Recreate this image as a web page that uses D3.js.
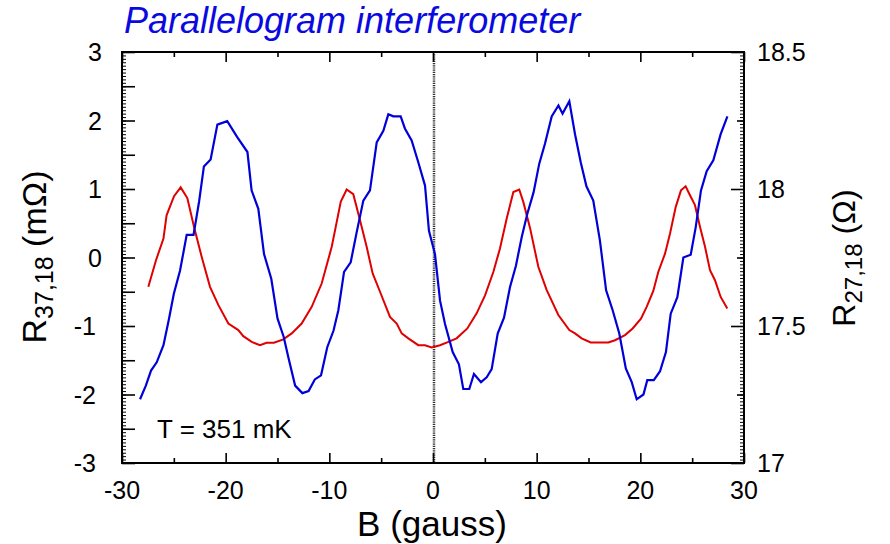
<!DOCTYPE html>
<html>
<head>
<meta charset="utf-8">
<script src="https://cdn.jsdelivr.net/npm/d3@7"></script>
<style>
	body { margin: 0; background: #fff; }
	svg text { font-family: "Liberation Sans", Arial, sans-serif; }
</style>
</head>
<body>
<svg width="890" height="544"></svg>
<script>
// blue trace, left axis (mOhm)
const blueB = [-28.26, -27.7, -27.2, -26.65, -26.0, -25.5, -25.0, -24.4, -23.76, -23.1, -22.57, -22.1, -21.45, -20.8, -19.85, -18.9, -17.9, -17.5, -16.85, -16.3, -15.6, -15.0, -14.4, -13.95, -13.3, -12.6, -12.0, -11.4, -10.8, -10.2, -9.6, -9.13, -8.58, -7.94, -7.36, -6.72, -6.08, -5.43, -4.79, -4.31, -3.83, -3.12, -2.7, -2.06, -1.42, -0.77, -0.39, 0.19, 0.68, 1.16, 1.9, 2.5, 2.92, 3.5, 3.95, 4.63, 5.18, 5.66, 6.24, 6.85, 7.43, 8.0, 8.56, 9.1, 9.7, 10.25, 10.8, 11.45, 12.1, 12.5, 13.15, 13.7, 14.25, 14.8, 15.46, 16.1, 16.7, 17.33, 17.97, 18.6, 19.17, 19.65, 20.3, 20.67, 21.3, 21.9, 22.47, 22.93, 23.57, 24.15, 24.86, 25.34, 25.85, 26.4, 27.04, 27.75, 28.4];
const blueR = [-2.07, -1.87, -1.65, -1.53, -1.28, -0.92, -0.53, -0.19, 0.33, 0.33, 0.81, 1.33, 1.43, 1.94, 1.99, 1.76, 1.54, 0.98, 0.71, 0.05, -0.31, -0.89, -1.16, -1.46, -1.87, -1.98, -1.95, -1.78, -1.72, -1.31, -1.07, -0.77, -0.21, -0.07, 0.37, 0.83, 0.98, 1.68, 1.85, 2.09, 2.06, 2.06, 1.88, 1.71, 1.39, 1.05, 0.39, 0.05, -0.63, -0.97, -1.38, -1.56, -1.92, -1.92, -1.70, -1.82, -1.75, -1.63, -1.11, -0.88, -0.43, -0.12, 0.30, 0.64, 0.95, 1.37, 1.66, 2.06, 2.22, 2.10, 2.28, 1.80, 1.39, 1.04, 0.83, 0.25, -0.48, -0.77, -1.11, -1.62, -1.82, -2.07, -2.0, -1.79, -1.79, -1.66, -1.38, -0.82, -0.58, 0.00, 0.04, 0.44, 0.98, 1.26, 1.42, 1.80, 2.06];

// red trace, right axis (Ohm)
const redB = [-27.46, -26.72, -26.0, -25.7, -24.98, -24.34, -23.7, -23.05, -22.31, -21.51, -20.7, -19.74, -18.78, -18.3, -17.49, -16.69, -16.05, -15.34, -14.44, -13.63, -12.67, -11.7, -10.74, -9.77, -9.45, -8.9, -8.33, -7.69, -7.04, -6.4, -5.82, -5.11, -4.15, -3.5, -3.02, -2.38, -1.42, -0.77, -0.13, 0.68, 1.48, 2.28, 3.31, 4.21, 5.02, 5.82, 6.46, 7.11, 7.75, 8.32, 8.71, 9.36, 10.16, 10.97, 12.09, 13.15, 13.7, 14.34, 15.21, 16.91, 17.56, 18.52, 19.26, 20.06, 20.61, 21.25, 21.73, 22.38, 22.86, 23.41, 23.92, 24.37, 24.79, 25.27, 25.76, 26.24, 26.72, 27.2, 27.75, 28.39];
const redR = [17.643, 17.740, 17.819, 17.904, 17.974, 18.006, 17.967, 17.861, 17.752, 17.643, 17.576, 17.509, 17.485, 17.463, 17.442, 17.430, 17.439, 17.439, 17.451, 17.473, 17.509, 17.570, 17.655, 17.789, 17.849, 17.953, 17.998, 17.981, 17.886, 17.789, 17.692, 17.625, 17.533, 17.509, 17.473, 17.455, 17.430, 17.430, 17.422, 17.430, 17.442, 17.455, 17.491, 17.546, 17.612, 17.697, 17.783, 17.892, 17.989, 17.998, 17.953, 17.858, 17.716, 17.631, 17.540, 17.485, 17.473, 17.455, 17.440, 17.440, 17.448, 17.467, 17.491, 17.527, 17.570, 17.628, 17.697, 17.764, 17.837, 17.934, 17.995, 18.010, 17.977, 17.941, 17.861, 17.789, 17.704, 17.667, 17.606, 17.564];

const xTicks = [-30, -20, -10, 0, 10, 20, 30];
const leftTicks = [-3, -2, -1, 0, 1, 2, 3];
const rightTicks = [17, 17.5, 18, 18.5];

var svg = d3.select("svg");
// plot box (pixels)
var pL = 122, pR = 744, pT = 52, pB = 463;

var x = d3.scaleLinear().domain([-30, 30]).range([pL, pR]);
var yL = d3.scaleLinear().domain([-3, 3]).range([pB, pT]);
var yR = d3.scaleLinear().domain([17, 18.5]).range([pB, pT]);

// title
svg.append("text")
	.attr("x", 124)
	.attr("y", 33)
	.attr("font-size", "36px")
	.attr("font-style", "italic")
	.attr("fill", "#0a0ae0")
	.text("Parallelogram interferometer");

// dotted line at B = 0
svg.append("line")
	.attr("x1", x(0) + 1).attr("x2", x(0) + 1)
	.attr("y1", pT).attr("y2", pB)
	.attr("stroke", "#333")
	.attr("stroke-width", 2.5)
	.attr("stroke-dasharray", "1.2,1");

// lines
var lineL = d3.line()
	.x(function (d, i) { return x(blueB[i]); })
	.y(function (d) { return yL(d); });
var lineR = d3.line()
	.x(function (d, i) { return x(redB[i]); })
	.y(function (d) { return yR(d); });

svg.append("path")
	.attr("d", lineR(redR))
	.attr("fill", "none")
	.attr("stroke", "#e00000")
	.attr("stroke-width", 2);

svg.append("path")
	.attr("d", lineL(blueR))
	.attr("fill", "none")
	.attr("stroke", "#0000d8")
	.attr("stroke-width", 2.2);

// axes, all ticks pointing inside
function tickAxis(axis, vals, size, transform, w) {
	svg.append("g")
		.attr("transform", transform)
		.call(axis.tickValues(vals).tickSize(size).tickFormat(""))
		.call(function (g) { g.select(".domain").remove(); })
		.selectAll("line").attr("stroke", "#000").attr("stroke-width", w || 1.6);
}

// x: major every 10, minor every 5
tickAxis(d3.axisTop(x), xTicks, 10, "translate(0," + pB + ")");
tickAxis(d3.axisTop(x), d3.range(-25, 30, 10), 5, "translate(0," + pB + ")");
tickAxis(d3.axisBottom(x), xTicks, 10, "translate(0," + pT + ")");
tickAxis(d3.axisBottom(x), d3.range(-25, 30, 10), 5, "translate(0," + pT + ")");

// left: ticks every 0.5 plus a dense ruler
tickAxis(d3.axisRight(yL), d3.range(-3, 3.01, 0.5), 13, "translate(" + pL + ",0)");
tickAxis(d3.axisRight(yL), d3.range(-3, 3.001, 0.05), 4, "translate(" + pL + ",0)", 1);

// right: ticks every 0.25 (longer at 0.5) plus dense ruler
tickAxis(d3.axisLeft(yR), rightTicks, 13, "translate(" + pR + ",0)");
tickAxis(d3.axisLeft(yR), [17.25, 17.75, 18.25], 7, "translate(" + pR + ",0)");
tickAxis(d3.axisLeft(yR), d3.range(17, 18.5001, 0.0125), 4, "translate(" + pR + ",0)", 1);

// frame
svg.append("rect")
	.attr("x", pL).attr("y", pT)
	.attr("width", pR - pL).attr("height", pB - pT)
	.attr("fill", "none")
	.attr("stroke", "#000")
	.attr("stroke-width", 2);

// tick labels
svg.selectAll(".xl").data(xTicks).enter().append("text")
	.attr("x", function (d) { return x(d); })
	.attr("y", 499)
	.attr("text-anchor", "middle")
	.attr("font-size", "25px")
	.text(function (d) { return d; });

svg.selectAll(".yl").data(leftTicks).enter().append("text")
	.attr("x", function (d) { return d < 0 ? 96 : 102; })
	.attr("y", function (d) { return yL(d) + 9; })
	.attr("text-anchor", "end")
	.attr("font-size", "25px")
	.text(function (d) { return d; });

svg.selectAll(".yr").data(rightTicks).enter().append("text")
	.attr("x", 757)
	.attr("y", function (d) { return yR(d) + 9; })
	.attr("font-size", "25px")
	.text(function (d) { return d; });

// axis titles
svg.append("text")
	.attr("x", 432)
	.attr("y", 536)
	.attr("text-anchor", "middle")
	.attr("font-size", "35px")
	.text("B (gauss)");

var tl = svg.append("text")
	.attr("transform", "translate(46,257)rotate(-90)")
	.attr("text-anchor", "middle")
	.attr("font-size", "34px");
tl.append("tspan").text("R");
tl.append("tspan").attr("font-size", "25px").attr("dy", 7).text("37,18");
tl.append("tspan").attr("dy", -7).text(" (mΩ)");

var tr = svg.append("text")
	.attr("transform", "translate(855,258)rotate(-90)")
	.attr("text-anchor", "middle")
	.attr("font-size", "32px");
tr.append("tspan").text("R");
tr.append("tspan").attr("font-size", "24px").attr("dy", 7).text("27,18");
tr.append("tspan").attr("dy", -7).text(" (Ω)");

// temperature note
svg.append("text")
	.attr("x", 157)
	.attr("y", 438)
	.attr("font-size", "26px")
	.text("T = 351 mK");
</script>
</body>
</html>
